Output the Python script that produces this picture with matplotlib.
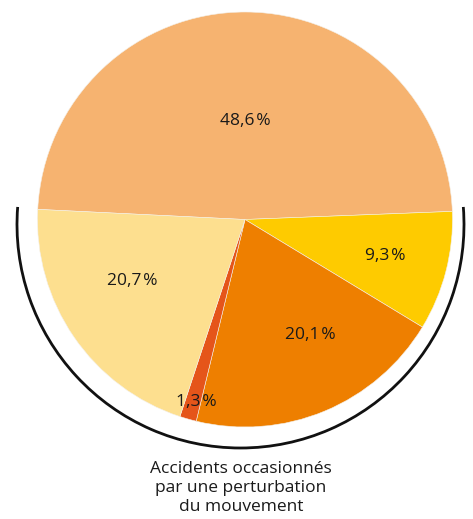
import numpy as np
import matplotlib.pyplot as plt
from matplotlib.patches import Arc

# share of accidents, clockwise from the left edge
values = [48.6, 9.3, 20.1, 1.3, 20.7]
colors = ['#F6B370', '#FECB00', '#EE7F00', '#E5551A', '#FDDF8F']
caption = "Accidents occasionnés\npar une perturbation\ndu mouvement"

# label placement (fraction of radius, angle shift in degrees)
label_r = [0.475, 0.70, 0.64, 0.91, 0.62]
label_shift = [0, 0, 7, 1, -6]

plt.rcParams['font.family'] = ['Open Sans', 'DejaVu Sans']

fig = plt.figure(figsize=(4.73, 5.19), dpi=100)
ax = fig.add_axes([0, 0, 1, 1])

cx, cy, r = 245, 519 - 219.5, 207.5
wedges, _ = ax.pie(values, colors=colors, startangle=177.2, counterclock=False,
                   center=(cx, cy), radius=r,
                   wedgeprops=dict(linewidth=0.4, edgecolor='#f4f0e8'))

for w, v, lr, sh in zip(wedges, values, label_r, label_shift):
    ang = np.deg2rad((w.theta1 + w.theta2) / 2 + sh)
    x = cx + lr * r * np.cos(ang)
    y = cy + lr * r * np.sin(ang)
    ax.text(x, y, f"{v:.1f}".replace('.', ',') + '\u200a%', ha='center', va='center',
            fontsize=12.5, color='#1a1a1a')

# black arc under the pie
arc = Arc((240.5, 519 - 224.5), 447, 447, theta1=175.5, theta2=364.5,
          color='#111111', linewidth=2)
ax.add_patch(arc)

ax.text(241, 519 - 488, caption, ha='center', va='center', fontsize=12.5,
        color='#1a1a1a', linespacing=1.25)

ax.set_xlim(0, 473)
ax.set_ylim(0, 519)
ax.set_aspect('equal')
ax.axis('off')
fig.savefig('out.png', dpi=100)
